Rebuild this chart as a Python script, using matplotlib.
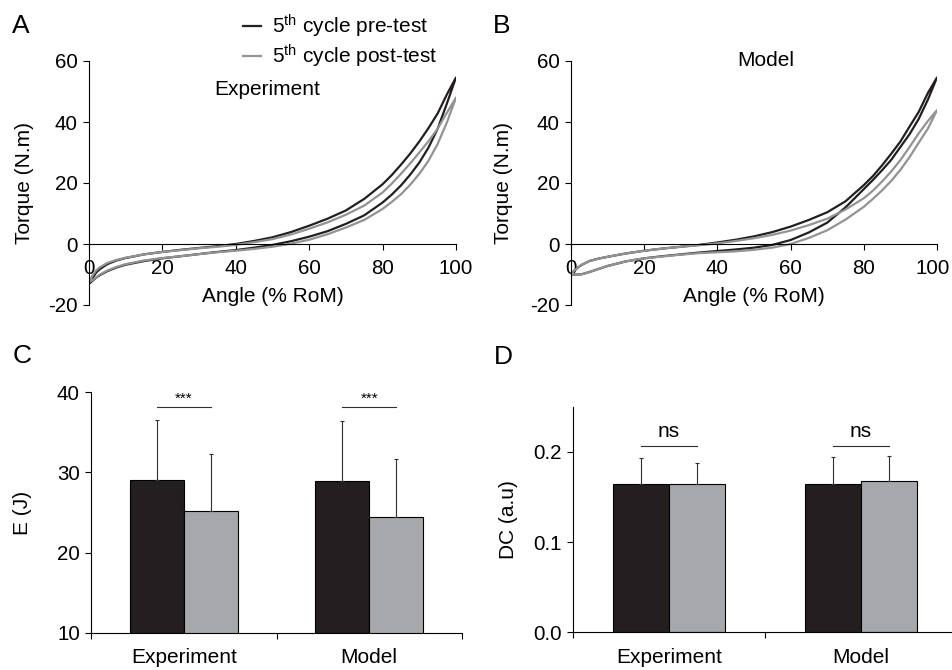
import numpy as np
import matplotlib
matplotlib.use("Agg")
import matplotlib.pyplot as plt
from matplotlib.transforms import ScaledTranslation

plt.rcParams['font.family'] = ['Liberation Sans', 'DejaVu Sans']
plt.rcParams['mathtext.fontset'] = 'custom'
plt.rcParams['mathtext.rm'] = 'Liberation Sans'
plt.rcParams['mathtext.it'] = 'Liberation Sans:italic'
plt.rcParams['axes.unicode_minus'] = False

# ---------------- data ----------------
ang_up = [0, 1, 2, 3, 5, 7.5, 10, 15, 20, 25, 30, 35, 40, 45, 50, 55, 60, 65, 70, 75, 80, 82.5, 85, 87.5, 90, 92.5, 95, 97.5, 100]
ang_dn = [100, 97.5, 95, 92.5, 90, 87.5, 85, 82.5, 80, 75, 70, 65, 60, 55, 50, 45, 40, 35, 30, 25, 20, 15, 10, 7.5, 5, 3, 2, 1, 0]

# Experiment (panel A)
expA_pre_up = [-13, -11, -9.3, -8.2, -6.6, -5.4, -4.6, -3.4, -2.6, -1.9, -1.3, -0.7, 0.0, 1.0, 2.2, 3.9, 6.0, 8.3, 11.0, 14.8, 19.6, 22.6, 26.0, 29.6, 33.6, 38.0, 42.8, 49.0, 54.6]
expA_pre_dn = [54.6, 46.0, 37.8, 31.6, 26.7, 22.7, 19.2, 16.2, 13.6, 9.4, 6.6, 4.2, 2.4, 0.9, -0.3, -1.2, -2.0, -2.6, -3.3, -4.0, -4.7, -5.6, -6.8, -7.7, -8.9, -10.2, -11.0, -12.0, -13]
expA_post_up = [-12.5, -10.2, -8.6, -7.6, -6.2, -5.2, -4.5, -3.4, -2.6, -2.0, -1.4, -0.9, -0.3, 0.6, 1.6, 3.1, 5.0, 7.1, 9.6, 12.6, 16.9, 19.8, 23.0, 26.4, 30.0, 33.7, 37.8, 43.0, 48.0]
expA_post_dn = [48.0, 39.8, 32.8, 27.3, 23.0, 19.4, 16.3, 13.8, 11.5, 7.9, 5.4, 3.2, 1.4, 0.1, -0.9, -1.6, -2.2, -2.7, -3.3, -4.0, -4.6, -5.4, -6.6, -7.5, -8.7, -10.0, -10.9, -11.8, -12.5]

# Model (panel B)
modB_pre_up = [-10, -8.6, -7.6, -6.8, -5.6, -4.8, -4.2, -3.1, -2.2, -1.5, -0.9, -0.3, 0.5, 1.4, 2.5, 3.9, 5.7, 7.9, 10.4, 14.0, 19.3, 22.3, 25.8, 29.6, 33.6, 38.5, 43.3, 49.5, 54.6]
modB_pre_dn = [54.6, 47.3, 41.0, 36.0, 31.8, 27.6, 24.2, 21.0, 18.0, 12.0, 7.0, 3.8, 1.3, -0.3, -1.2, -1.8, -2.3, -2.8, -3.4, -4.0, -4.7, -5.7, -7.2, -8.2, -9.2, -9.9, -10.0, -10.0, -10]
modB_post_up = [-10, -8.6, -7.6, -6.8, -5.6, -4.8, -4.2, -3.1, -2.2, -1.5, -0.9, -0.4, 0.2, 1.0, 1.9, 3.0, 4.4, 6.2, 8.3, 11.3, 15.0, 17.5, 20.5, 23.8, 27.5, 31.8, 36.3, 40.3, 43.9]
modB_post_dn = [43.9, 37.8, 33.2, 28.5, 24.3, 20.7, 17.6, 14.8, 12.2, 8.0, 4.5, 2.0, 0.0, -1.2, -1.9, -2.4, -2.7, -3.0, -3.5, -4.1, -4.7, -5.7, -7.2, -8.2, -9.2, -9.9, -10.0, -10.0, -10]

groups = ['Experiment', 'Model']
E_pre = [29.05, 28.9]
E_pre_sd = [7.45, 7.45]
E_post = [25.2, 24.5]
E_post_sd = [7.1, 7.1]
E_sig = ['***', '***']

DC_pre = [0.164, 0.1645]
DC_pre_sd = [0.029, 0.0295]
DC_post = [0.164, 0.168]
DC_post_sd = [0.024, 0.027]
DC_sig = ['ns', 'ns']

legend_labels = ['5$^{\\mathrm{th}}$ cycle pre-test', '5$^{\\mathrm{th}}$ cycle post-test']

# ---------------- style ----------------
W, H = 952, 670
FS = 15
TFS = 14.8
BLACK = '#231f20'
GRAY = '#a6a8ab'
LINE_GRAY = '#939393'
ALW = 0.8

fig = plt.figure(figsize=(W / 100, H / 100), dpi=100)


def px_axes(l, t, r, b):
    return fig.add_axes([l / W, 1 - b / H, (r - l) / W, (b - t) / H])


def style_curve_axes(ax, ylab_x):
    ax.set_xlim(0, 100)
    ax.set_ylim(-20, 60)
    for s in ['top', 'right']:
        ax.spines[s].set_visible(False)
    ax.spines['bottom'].set_position(('data', 0))
    for s in ['left', 'bottom']:
        ax.spines[s].set_linewidth(ALW)
    ax.set_xticks([0, 20, 40, 60, 80, 100])
    ax.set_yticks([-20, 0, 20, 40, 60])
    ax.tick_params(axis='both', direction='out', length=4, width=ALW, labelsize=TFS)
    ax.tick_params(axis='x', pad=7)
    ax.tick_params(axis='y', pad=4)
    ax.set_xlabel('Angle (% RoM)', fontsize=FS)
    ax.set_ylabel('Torque (N.m)', fontsize=FS)
    ax.xaxis.set_label_coords(0.5, 0.075)
    ax.xaxis.label.set_va('top')
    ax.yaxis.set_label_coords(ylab_x, 0.5)


# Panel A
axA = px_axes(89, 61, 456, 305)
lA1, = axA.plot(ang_up + ang_dn, expA_pre_up + expA_pre_dn, color=BLACK, lw=1.6, solid_joinstyle='round')
lA2, = axA.plot(ang_up + ang_dn, expA_post_up + expA_post_dn, color=LINE_GRAY, lw=1.6, solid_joinstyle='round')
style_curve_axes(axA, -0.15)
axA.text(48.5, 50.8, 'Experiment', fontsize=FS, ha='center', va='center')
axA.legend([lA1, lA2], legend_labels, loc='upper left', bbox_to_anchor=(243 / W, 1 - 13 / H),
           bbox_transform=fig.transFigure, frameon=False, borderpad=0, borderaxespad=0,
           handlelength=0.85, handletextpad=0.55, labelspacing=0.12, fontsize=FS)

# Panel B
axB = px_axes(571, 61, 937, 305)
axB.plot(ang_up + ang_dn, modB_pre_up + modB_pre_dn, color=BLACK, lw=1.6, solid_joinstyle='round')
axB.plot(ang_up + ang_dn, modB_post_up + modB_post_dn, color=LINE_GRAY, lw=1.6, solid_joinstyle='round')
style_curve_axes(axB, -0.158)
axB.text(53.3, 60, 'Model', fontsize=FS, ha='center', va='center')
# keep the last tick label of B inside the figure edge
last = axB.get_xticklabels()[-1]
last.set_transform(last.get_transform() + ScaledTranslation(-0.04, 0, fig.dpi_scale_trans))


def bar_panel(ax, pre, pre_sd, post, post_sd, sig, sig_y, txt_y, txt_fs, ylim, yticks, yfmt, ylab, ylab_x):
    centers = np.arange(len(groups)) + 0.5
    bw = 0.29
    xb = centers - bw / 2
    xg = centers + bw / 2
    ax.bar(xb, pre, width=bw, color=BLACK, edgecolor='black', linewidth=ALW, zorder=2)
    ax.bar(xg, post, width=bw, color=GRAY, edgecolor='black', linewidth=ALW, zorder=2)
    ax.errorbar(xb, pre, yerr=[np.zeros(len(pre)), pre_sd], fmt='none', ecolor='#303030',
                elinewidth=ALW, capsize=1.5, capthick=ALW, zorder=3)
    ax.errorbar(xg, post, yerr=[np.zeros(len(post)), post_sd], fmt='none', ecolor='#303030',
                elinewidth=ALW, capsize=1.5, capthick=ALW, zorder=3)
    for i, s in enumerate(sig):
        ax.plot([xb[i], xg[i]], [sig_y, sig_y], color='#303030', lw=ALW)
        ax.text(centers[i], txt_y, s, ha='center', va='baseline', fontsize=txt_fs)
    ax.set_xlim(0, 2)
    ax.set_ylim(*ylim)
    for s in ['top', 'right']:
        ax.spines[s].set_visible(False)
    for s in ['left', 'bottom']:
        ax.spines[s].set_linewidth(ALW)
    ax.set_xticks([0, 1, 2])
    ax.set_xticklabels(['', '', ''])
    ax.set_xticks(centers, minor=True)
    ax.set_xticklabels(groups, minor=True, fontsize=FS)
    ax.tick_params(axis='x', which='minor', length=0, pad=11)
    ax.tick_params(axis='x', which='major', direction='out', length=4, width=ALW)
    ax.set_yticks(yticks)
    ax.set_yticklabels([yfmt.format(v) for v in yticks])
    ax.tick_params(axis='y', direction='out', length=4, width=ALW, labelsize=TFS, pad=4)
    ax.set_ylabel(ylab, fontsize=FS)
    ax.yaxis.set_label_coords(ylab_x, 0.5)


axC = px_axes(91, 392, 462, 633)
bar_panel(axC, E_pre, E_pre_sd, E_post, E_post_sd, E_sig, 38.1, 38.6, 11,
          (10, 40), [10, 20, 30, 40], '{:d}', 'E (J)', -0.159)

axD = px_axes(573, 406.7, 957, 632.3)
bar_panel(axD, DC_pre, DC_pre_sd, DC_post, DC_post_sd, DC_sig, 0.2067, 0.2167, FS,
          (0, 0.25), [0.0, 0.1, 0.2], '{:.1f}', 'DC (a.u)', -0.143)

# panel letters
for lab, x, y in [('A', 12, 33), ('B', 493, 33), ('C', 13, 363), ('D', 494, 364)]:
    fig.text(x / W, 1 - y / H, lab, fontsize=19, ha='left', va='baseline')

fig.savefig('out.png', dpi=100)
